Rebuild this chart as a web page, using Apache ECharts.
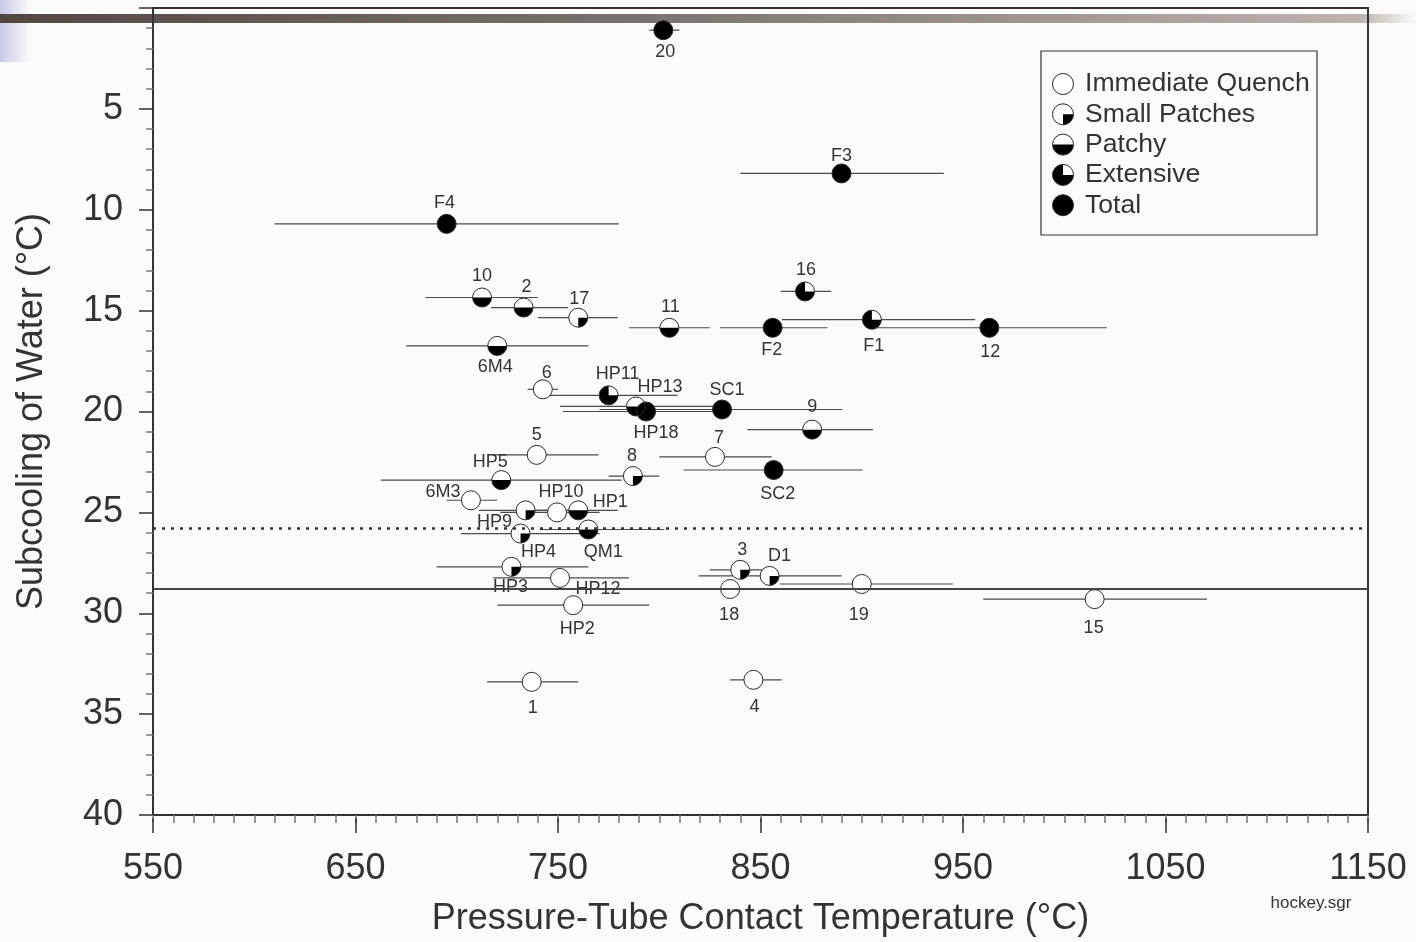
<!DOCTYPE html>
<html>
<head>
<meta charset="utf-8">
<title>hockey</title>
<script src="https://cdn.jsdelivr.net/npm/echarts@6.0.0/dist/echarts.min.js"></script>
<style>
  html, body { margin: 0; padding: 0; background: #fbfbf9; }
  #main { width: 1416px; height: 942px; }
</style>
</head>
<body>
<div id="main"></div>
<script>
// test labels and values
var labels = ['20', 'F3', 'F4', '10', '2', '17', '11', 'F2', 'F1', '12', '16', '6M4', '6', 'HP11', 'HP13', 'HP18', 'SC1', '9', '5', '7', 'SC2', '8', 'HP5', '6M3', 'HP9', 'HP10', 'HP1', 'HP4', 'QM1', 'HP3', 'HP12', 'HP2', '3', 'D1', '18', '19', '15', '1', '4'];
var temps = [802, 890, 695, 712.5, 733, 760, 805, 856, 905, 963, 872, 720, 742.5, 775, 788.5, 793.5, 831, 875.5, 739.5, 827.5, 856.5, 787, 722, 707, 734, 749.5, 760, 731.5, 765, 727, 751, 757.5, 840, 854.5, 835, 900, 1015, 737, 846.5];
var subcool = [1.1, 8.2, 10.7, 14.35, 14.85, 15.35, 15.85, 15.85, 15.45, 15.85, 14.05, 16.75, 18.9, 19.2, 19.75, 20.0, 19.9, 20.9, 22.15, 22.25, 22.9, 23.2, 23.4, 24.4, 24.9, 25.0, 24.9, 26.05, 25.85, 27.7, 28.25, 29.6, 27.85, 28.15, 28.8, 28.55, 29.3, 33.4, 33.3];
var errLow = [795, 840, 610, 684.5, 717, 740, 785, 830, 860.5, 904, 860, 675, 735, 746, 751, 752.5, 770.5, 843.5, 718, 800, 812, 775, 662.5, 695, 711, 721.5, 736, 702, 741, 690, 718, 720, 825, 819.5, 825, 859.5, 960, 715, 835];
var errHigh = [810, 940.5, 780, 740, 755, 779.5, 825, 883, 956, 1021, 885, 765, 750, 809, 827.5, 835, 890.5, 905.5, 770, 855.5, 900.5, 800, 781.5, 720, 751, 770.5, 779.5, 770.5, 802.5, 765, 785, 795, 855.5, 890, 845, 945, 1070.5, 760, 860.5];
// 0 immediate quench, 1 small patches, 2 patchy, 3 extensive, 4 total
var types = [4, 4, 4, 2, 2, 1, 2, 4, 3, 4, 3, 2, 0, 3, 2, 4, 4, 2, 0, 0, 4, 1, 2, 0, 1, 0, 2, 1, 2, 1, 0, 0, 1, 1, 0, 0, 0, 0, 0];
var typeNames = ['Immediate Quench', 'Small Patches', 'Patchy', 'Extensive', 'Total'];
var refLines = [25.8, 28.8];
var xLabels = [550, 650, 750, 850, 950, 1050, 1150];

// where each point's label sits, in px from the marker
var labelOffset = [[2, 22], [0, -17], [-2, -21], [0, -21], [3, -21], [1, -19], [1, -21], [-1, 22], [2, 26], [1, 24],
  [1, -21], [-2, 21], [4, -16], [9, -21], [24, -19], [10, 22], [5, -19], [0, -23], [0, -20], [4, -19],
  [4, 24], [-1, -20], [-11, -18], [-28, -8], [-31, 12], [4, -20], [32, -8], [18, 18], [15, 23], [-1, 20],
  [38, 11], [4, 24], [2, -20], [10, -20], [-1, 26], [-3, 31], [-1, 29], [1, 26], [1, 27]];

var FONT = '"Liberation Sans", Arial, sans-serif';
var sectorEnd = [0, Math.PI / 2, Math.PI, Math.PI * 1.5];

// minor ticks every 10 degrees
var xMinor = [];
for (var t = 550; t <= 1150; t += 10) xMinor.push(t);

// open circle with the filled part on top
function markerEls(cx, cy, r, type, z2) {
  var els = [{ type: 'circle', z2: z2, shape: { cx: cx, cy: cy, r: r }, style: { fill: '#fff' } }];
  if (type === 4) {
    els.push({ type: 'circle', z2: z2 + 1, shape: { cx: cx, cy: cy, r: r }, style: { fill: '#000' } });
  } else if (type > 0) {
    els.push({
      type: 'sector', z2: z2 + 1,
      shape: { cx: cx, cy: cy, r: r, r0: 0, startAngle: 0, endAngle: sectorEnd[type], clockwise: true },
      style: { fill: '#000' }
    });
  }
  els.push({ type: 'circle', z2: z2 + 2, shape: { cx: cx, cy: cy, r: r }, style: { fill: 'none', stroke: '#2a2a2a', lineWidth: 1 } });
  return els;
}

var seriesData = labels.map(function (l, i) {
  return [temps[i], subcool[i], errLow[i], errHigh[i], types[i], i];
});

// legend drawn by hand because the icons are two-coloured
var legendEls = [{
  type: 'rect', shape: { x: 1041, y: 51, width: 276, height: 184 },
  style: { fill: '#fbfbf9', stroke: '#333', lineWidth: 1.2 }, z: 5
}];
typeNames.forEach(function (name, k) {
  var cy = 84 + k * 30.3;
  markerEls(1063, cy, 10.5, k, 0).forEach(function (e) { e.z = 6; legendEls.push(e); });
  legendEls.push({
    type: 'text', z: 6, x: 1085, y: cy,
    style: { text: name, font: '26.6px ' + FONT, fill: '#333', textAlign: 'left', textVerticalAlign: 'middle', align: 'left', verticalAlign: 'middle' }
  });
});

var gridBox = { left: 153, right: 48, top: 8, bottom: 124 };

var chart = echarts.init(document.getElementById('main'));
chart.setOption({
  backgroundColor: '#fbfbf9',
  animation: false,
  textStyle: { fontFamily: FONT },
  grid: [
    Object.assign({ show: true, borderColor: '#333', borderWidth: 2, backgroundColor: 'transparent' }, gridBox),
    Object.assign({ show: false }, gridBox)
  ],
  graphic: [
    {
      type: 'rect', z: -1, shape: { x: 0, y: 0, width: 30, height: 62 },
      style: {
        fill: new echarts.graphic.LinearGradient(0, 0, 1, 0, [
          { offset: 0, color: '#c9c9ea' },
          { offset: 1, color: '#fbfbf9' }
        ])
      }
    },
    {
      type: 'rect', z: -1, shape: { x: 0, y: 14, width: 1416, height: 9 },
      style: {
        fill: new echarts.graphic.LinearGradient(0, 0, 1, 0, [
          { offset: 0, color: '#524842' },
          { offset: 0.45, color: '#7a726e' },
          { offset: 0.96, color: '#bdb3ad' },
          { offset: 1, color: '#fbfbf9' }
        ])
      }
    },
    {
      type: 'text', x: 1311, y: 903,
      style: { text: 'hockey.sgr', font: '17px ' + FONT, fill: '#333', textAlign: 'center', textVerticalAlign: 'middle', align: 'center', verticalAlign: 'middle' }
    },
    { type: 'group', children: legendEls }
  ],
  xAxis: [
    {
      type: 'value', gridIndex: 0, position: 'bottom', min: 550, max: 1150, interval: 10,
      name: 'Pressure-Tube Contact Temperature (°C)', nameLocation: 'middle', nameGap: 86,
      nameTextStyle: { fontSize: 36, color: '#333', fontFamily: FONT },
      axisLine: { show: true, onZero: false, lineStyle: { color: '#333', width: 2 } },
      axisTick: { show: true, customValues: xMinor, length: 8, lineStyle: { color: '#777', width: 1.5 } },
      axisLabel: {
        customValues: xLabels, fontSize: 36, color: '#333', margin: 36, fontFamily: FONT,
        formatter: function (v) { return String(v); }
      },
      splitLine: { show: false }
    },
    {
      // long ticks at the labelled values
      type: 'value', gridIndex: 1, position: 'bottom', min: 550, max: 1150, interval: 10,
      axisLine: { show: false, onZero: false },
      axisTick: { show: true, customValues: xLabels, length: 15, lineStyle: { color: '#333', width: 1.5 } },
      axisLabel: { show: false },
      splitLine: { show: false }
    }
  ],
  yAxis: [
    {
      type: 'value', gridIndex: 0, inverse: true, min: 0, max: 40, interval: 5,
      name: 'Subcooling of Water (°C)', nameLocation: 'middle', nameGap: 103,
      nameTextStyle: { fontSize: 36, color: '#333', fontFamily: FONT },
      axisLine: { show: true, onZero: false, lineStyle: { color: '#333', width: 2 } },
      axisTick: { show: true, length: 14, lineStyle: { color: '#333', width: 1.5 } },
      minorTick: { show: true, splitNumber: 5, length: 7, lineStyle: { color: '#777', width: 1.5 } },
      axisLabel: {
        fontSize: 36, color: '#333', margin: 30, fontFamily: FONT,
        formatter: function (v) { return v === 0 ? '' : v; }
      },
      splitLine: { show: false }
    },
    {
      type: 'value', gridIndex: 1, inverse: true, min: 0, max: 40, interval: 5, show: false
    }
  ],
  series: [{
    type: 'custom',
    xAxisIndex: 0,
    yAxisIndex: 0,
    data: seriesData,
    encode: { x: 0, y: 1 },
    renderItem: function (params, api) {
      var i = api.value(5);
      var y = api.value(1);
      var p = api.coord([api.value(0), y]);
      var lo = api.coord([api.value(2), y]);
      var hi = api.coord([api.value(3), y]);
      var children = [{
        type: 'line', z2: 1,
        shape: { x1: lo[0], y1: p[1], x2: hi[0], y2: p[1] },
        style: { stroke: '#4a4a4a', lineWidth: 1.2 }
      }];
      children = children.concat(markerEls(p[0], p[1], 9.5, api.value(4), 10));
      var off = labelOffset[i];
      children.push({
        type: 'text', z2: 20,
        style: {
          text: labels[i], x: p[0] + off[0], y: p[1] + off[1],
          font: '18px ' + FONT, fill: '#333',
          textAlign: 'center', textVerticalAlign: 'middle', align: 'center', verticalAlign: 'middle'
        }
      });
      return { type: 'group', children: children };
    },
    markLine: {
      silent: true,
      symbol: ['none', 'none'],
      label: { show: false },
      data: [
        { yAxis: refLines[0], lineStyle: { type: [3, 6], width: 2.5, color: '#333' } },
        { yAxis: refLines[1], lineStyle: { type: 'solid', width: 2, color: '#444' } }
      ]
    }
  }]
});
</script>
</body>
</html>
